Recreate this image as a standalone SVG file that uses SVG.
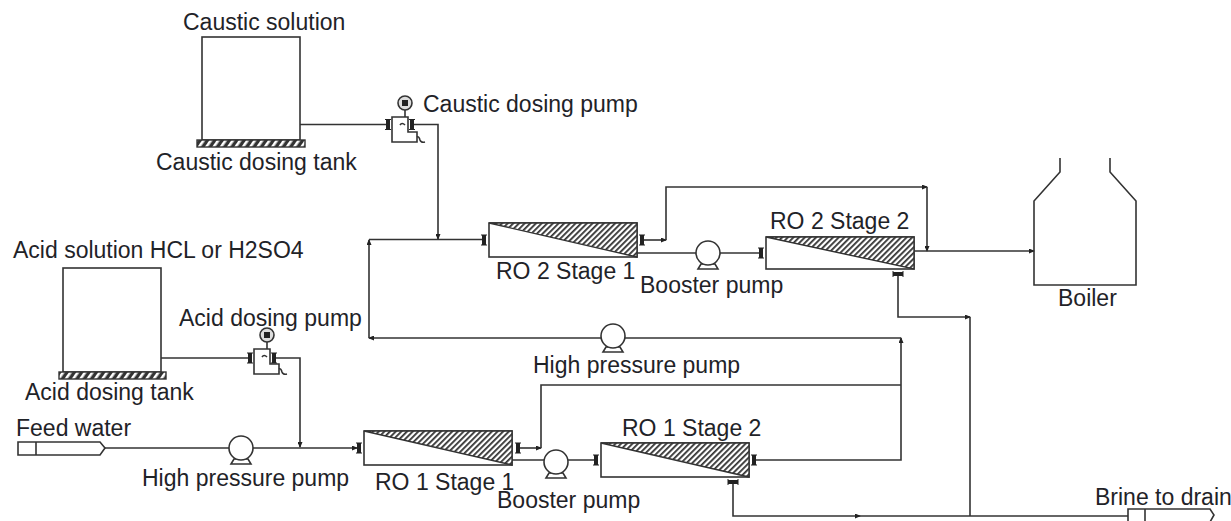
<svg xmlns="http://www.w3.org/2000/svg" width="1231" height="521" viewBox="0 0 1231 521">
<style>
text{font-family:"Liberation Sans",Arial,sans-serif;font-size:23px;fill:#1f2328}
.s{fill:none;stroke:#333;stroke-width:1.6}
.w{fill:#fff;stroke:#333;stroke-width:1.6}
.h{fill:url(#hatch);stroke:#333;stroke-width:1.4}
.b{fill:url(#base);stroke:#333;stroke-width:1.4}
.l{fill:none;stroke:#333;stroke-width:1.6}
</style>
<defs>
<pattern id="hatch" width="4" height="4" patternUnits="userSpaceOnUse" patternTransform="rotate(45)">
<rect width="4" height="4" fill="#fff"/><rect width="1.800" height="4" fill="#333"/>
</pattern>
<pattern id="base" width="6" height="6" patternUnits="userSpaceOnUse" patternTransform="rotate(35)">
<rect width="6" height="6" fill="#333"/><rect width="2.600" height="6" fill="#fff"/>
</pattern>
<marker id="a" markerWidth="6" markerHeight="5" refX="5" refY="2.500" orient="auto" markerUnits="userSpaceOnUse"><path d="M0 0L6 2.500L0 5Z" fill="#222"/></marker>
<g id="pv"><rect x="-2" y="-5" width="4" height="10" fill="#222"/><path d="M-3 -5H3M-3 5H3" stroke="#222" stroke-width="1"/></g>
<g id="ph"><rect x="-5" y="-2" width="10" height="4" fill="#222"/><path d="M-5 -3V3M5 -3V3" stroke="#222" stroke-width="1"/></g>
<g id="pump"><path class="w" d="M-10 16L-7 11H7L10 16Z"/><circle class="w" r="12"/></g>
<g id="dose">
<circle r="7" fill="#ddd" stroke="#333" stroke-width="1.600"/><rect x="-3" y="-3" width="6" height="6" fill="#222"/>
<path class="s" d="M0 7V14"/>
<path class="w" d="M-13 14H3V29H12V39H-13Z"/>
<path class="s" d="M-5 22Q-3 19 0 22M12 34Q14 33 15 37Q16 40 20 39"/>
</g>
</defs>

<g id="connectors">
<path class="l" d="M299 124.500H388M412 124.500H438V239" marker-end="url(#a)"/>
<path class="l" d="M369 239.500H484"/>
<path class="l" d="M642 240H666" marker-end="url(#a)"/>
<path class="l" d="M666 240V187H927" marker-end="url(#a)"/>
<path class="l" d="M927 187V251" marker-end="url(#a)"/>
<path class="l" d="M637 253H761"/>
<path class="l" d="M914 251H1034" marker-end="url(#a)"/>
<path class="l" d="M898 274V317H970" marker-end="url(#a)"/>
<path class="l" d="M970 317V516"/>
<path class="l" d="M161 358H250M274 358H300V447" marker-end="url(#a)"/>
<path class="l" d="M105 448H357" marker-end="url(#a)"/>
<path class="l" d="M518 448H541" marker-end="url(#a)"/>
<path class="l" d="M541 448V385H901"/>
<path class="l" d="M512 460H596"/>
<path class="l" d="M754 460H901V338" marker-end="url(#a)"/>
<path class="l" d="M901 338H369" marker-end="url(#a)"/>
<path class="l" d="M369 338V240" marker-end="url(#a)"/>
<path class="l" d="M733 482V516H860" marker-end="url(#a)"/>
<path class="l" d="M860 516H1128"/>
</g>

<g id="caustic-tank"><rect class="w" x="202" y="37" width="98" height="103"/><rect class="b" x="197" y="140" width="108" height="7"/><text x="183" y="30">Caustic solution</text><text x="156" y="170">Caustic dosing tank</text></g>
<g id="caustic-pump"><use href="#dose" transform="translate(405,103)"/><use href="#pv" x="388" y="124.500"/><use href="#pv" x="412" y="124.500"/><text x="423" y="112">Caustic dosing pump</text></g>
<g id="acid-tank"><rect class="w" x="63" y="268" width="98" height="104"/><rect class="b" x="59" y="372" width="107" height="7"/><text x="13" y="258">Acid solution HCL or H2SO4</text><text x="25" y="400">Acid dosing tank</text></g>
<g id="acid-pump"><use href="#dose" transform="translate(267,335)"/><use href="#pv" x="250" y="358"/><use href="#pv" x="274" y="358"/><text x="179" y="326">Acid dosing pump</text></g>
<g id="feed"><path class="w" d="M18 442H100L105 448L100 455H18Z"/><path class="s" d="M36 442V455"/><text x="16" y="436">Feed water</text></g>
<g id="hp-pump-1"><use href="#pump" x="241" y="448"/><text x="142" y="486">High pressure pump</text></g>
<g id="ro1-stage1"><rect class="w" x="364" y="431" width="148" height="34"/><path class="h" d="M364 431H512V465Z"/><use href="#pv" x="359" y="448"/><use href="#pv" x="518" y="448"/><text x="375" y="490">RO 1 Stage 1</text></g>
<g id="booster-1"><use href="#pump" x="556" y="462"/><text x="497" y="508">Booster pump</text></g>
<g id="ro1-stage2"><rect class="w" x="601" y="443" width="148" height="34"/><path class="h" d="M601 443H749V477Z"/><use href="#pv" x="596" y="460"/><use href="#pv" x="754" y="460"/><use href="#ph" x="733" y="482"/><text x="622" y="436">RO 1 Stage 2</text></g>
<g id="hp-pump-2"><use href="#pump" x="613" y="336"/><text x="533" y="373">High pressure pump</text></g>
<g id="ro2-stage1"><rect class="w" x="489" y="223" width="148" height="34"/><path class="h" d="M489 223H637V257Z"/><use href="#pv" x="484" y="240"/><use href="#pv" x="642" y="240"/><text x="496" y="279">RO 2 Stage 1</text></g>
<g id="booster-2"><use href="#pump" x="708" y="253"/><text x="640" y="293">Booster pump</text></g>
<g id="ro2-stage2"><rect class="w" x="766" y="237" width="148" height="32"/><path class="h" d="M766 237H914V269Z"/><use href="#pv" x="761" y="253"/><use href="#ph" x="898" y="274"/><text x="770" y="229">RO 2 Stage 2</text></g>
<g id="boiler"><path class="s" d="M1060 158V172L1034 201V285H1136V201L1110 172V158"/><text x="1058" y="306">Boiler</text></g>
<g id="brine"><path class="w" d="M1128 522V509H1210L1214 515L1210 522"/><path class="s" d="M1145 509V522"/><text x="1095" y="505">Brine to drain</text></g>
</svg>
